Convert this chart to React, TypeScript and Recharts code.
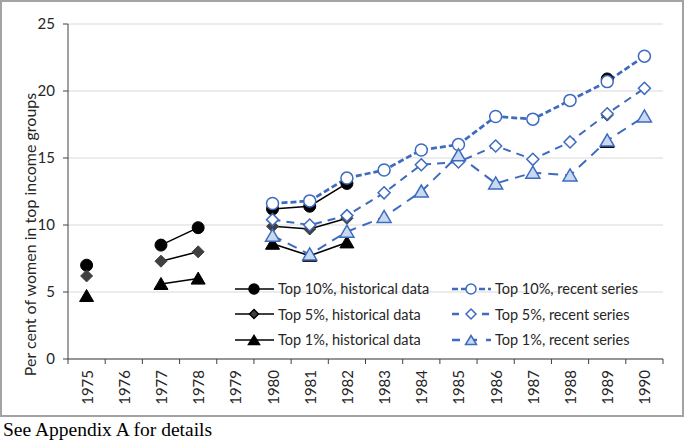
import React from 'react'
import { LineChart, Line, XAxis, YAxis, CartesianGrid, Legend } from 'recharts'

// values
const years = [1975, 1976, 1977, 1978, 1979, 1980, 1981, 1982, 1983, 1984, 1985, 1986, 1987, 1988, 1989, 1990]
const hist10 = [7.0, null, 8.5, 9.8, null, 11.2, 11.4, 13.1, null, null, null, null, null, null, 20.9, null]
const hist5 = [6.2, null, 7.3, 8.0, null, 9.9, 9.7, 10.5, null, null, null, null, null, null, 18.2, null]
const hist1 = [4.7, null, 5.6, 6.0, null, 8.6, 7.7, 8.7, null, null, null, null, null, null, 16.2, null]
const rec10 = [null, null, null, null, null, 11.6, 11.8, 13.5, 14.1, 15.6, 16.0, 18.1, 17.9, 19.3, 20.7, 22.6]
const rec5 = [null, null, null, null, null, 10.4, 10.0, 10.7, 12.4, 14.5, 14.7, 15.9, 14.9, 16.2, 18.3, 20.2]
const rec1 = [null, null, null, null, null, 9.2, 7.8, 9.5, 10.6, 12.5, 15.2, 13.1, 13.9, 13.7, 16.3, 18.1]
const yTicks = [0, 5, 10, 15, 20, 25]

const legendLabels = [
  'Top 10%, historical data', 'Top 10%, recent series',
  'Top 5%, historical data', 'Top 5%, recent series',
  'Top 1%, historical data', 'Top 1%, recent series',
]

const data = years.map((year, i) => ({
  year, hist10: hist10[i], hist5: hist5[i], hist1: hist1[i],
  rec10: rec10[i], rec5: rec5[i], rec1: rec1[i],
}))

const W = 685
const H = 416
const M = { top: 24, right: 22, left: 0, bottom: 0 }
const Y_W = 68
const X_H = 57
const BAND = (W - M.right - Y_W) / years.length
const BLUE = '#3e6bbf'
const FONT = 'Lato, "Liberation Sans", sans-serif'

const diamond = (cx: number, cy: number, r: number) =>
  `M${cx},${cy - r}L${cx + r},${cy}L${cx},${cy + r}L${cx - r},${cy}Z`
const triangle = (cx: number, cy: number, r: number) =>
  `M${cx},${cy - r}L${cx + r + 0.5},${cy + r - 1}L${cx - r - 0.5},${cy + r - 1}Z`

const mk = (kind: string, fill: string, stroke: string, r: number, sw: number) => (p: any) => {
  const { cx, cy, value, index } = p
  if (cx == null || cy == null || value == null) return <g key={index} />
  if (kind === 'circle') return <circle key={index} cx={cx} cy={cy} r={r} fill={fill} stroke={stroke} strokeWidth={sw} />
  const d = kind === 'diamond' ? diamond(cx, cy, r) : triangle(cx, cy, r)
  return <path key={index} d={d} fill={fill} stroke={stroke} strokeWidth={sw} strokeLinejoin="miter" />
}

const XTick = (p: any) => {
  const { x, y, payload, index } = p
  const h = BAND / 2
  return (
    <g>
      <line x1={x - h} y1={y} x2={x - h} y2={y + 5} stroke="#404040" />
      {index === years.length - 1 && <line x1={x + h} y1={y} x2={x + h} y2={y + 5} stroke="#404040" />}
      <text x={x} y={y + 11} transform={`rotate(-90 ${x} ${y + 11})`} textAnchor="end"
        dominantBaseline="central" fontSize={15} fontFamily={FONT} fill="#262626">{payload.value}</text>
    </g>
  )
}

const samples = [
  { color: '#000', dash: undefined, kind: 'circle', fill: '#000', r: 5 },
  { color: BLUE, dash: '6 3', kind: 'circle', fill: '#fff', r: 5 },
  { color: '#000', dash: undefined, kind: 'diamond', fill: '#404040', r: 4.5 },
  { color: BLUE, dash: '7 8', kind: 'diamond', fill: '#fff', r: 5 },
  { color: '#000', dash: undefined, kind: 'triangle', fill: '#000', r: 5 },
  { color: BLUE, dash: '8 9', kind: 'triangle', fill: '#c9d9f0', r: 5 },
]

const LegendBox = () => (
  <div style={{ display: 'grid', gridTemplateColumns: '217px 190px', rowGap: 4, fontFamily: FONT, fontSize: 14.5, color: '#262626' }}>
    {samples.map((s, i) => (
      <div key={i} style={{ display: 'flex', alignItems: 'center', height: 21.5, whiteSpace: 'nowrap' }}>
        <svg width={42} height={16} style={{ marginRight: 2 }}>
          <line x1={1} y1={8} x2={40} y2={8} stroke={s.color} strokeWidth={s.dash ? 2.5 : 1.5} strokeDasharray={s.dash} />
          {s.kind === 'circle' && <circle cx={20} cy={8} r={s.r} fill={s.fill} stroke={s.color} strokeWidth={1.5} />}
          {s.kind === 'diamond' && <path d={diamond(20, 8, s.r)} fill={s.fill} stroke={s.color} strokeWidth={1.5} />}
          {s.kind === 'triangle' && <path d={triangle(20, 8.5, s.r)} fill={s.fill} stroke={s.color} strokeWidth={1.5} />}
        </svg>
        <span>{legendLabels[i]}</span>
      </div>
    ))}
  </div>
)

export default function App() {
  return (
    <div style={{ position: 'absolute', left: 0, top: 0, width: W, height: 447, background: '#fff' }}>
      <div style={{ position: 'absolute', left: 0, top: 0, width: W - 1, height: H + 1, border: '2px solid #a3a3a3', boxSizing: 'border-box' }} />
      <div style={{ position: 'absolute', left: 0, top: 0 }}>
        <LineChart width={W} height={H} data={data} margin={M}>
          <CartesianGrid vertical={false} stroke="#d9d9d9" />
          <XAxis dataKey="year" type="number" domain={[1974.5, 1990.5]} ticks={years} interval={0}
            height={X_H} tickLine={false} tickSize={0} tickMargin={0} stroke="#404040" tick={<XTick />} />
          <YAxis domain={[0, 25]} ticks={yTicks} width={Y_W} tickSize={5} tickMargin={8} stroke="#404040"
            tick={{ fontSize: 15, fontFamily: FONT, fill: '#262626' }}
            label={{ value: 'Per cent of women in top income groups', angle: -90, position: 'insideLeft',
              dx: 25, dy: 43, style: { textAnchor: 'middle', fontSize: 16, fontFamily: FONT, fill: '#262626' } }} />
          <Legend layout="vertical" align="center" verticalAlign="middle" content={() => <LegendBox />}
            wrapperStyle={{ left: 234, top: 278, width: 420 }} />
          <Line dataKey="hist10" stroke="#000" strokeWidth={1.5} isAnimationActive={false} dot={mk('circle', '#000', '#000', 6, 1)} />
          <Line dataKey="hist5" stroke="#000" strokeWidth={1.5} isAnimationActive={false} dot={mk('diamond', '#404040', '#404040', 6, 1)} />
          <Line dataKey="hist1" stroke="#000" strokeWidth={1.5} isAnimationActive={false} dot={mk('triangle', '#000', '#000', 6.5, 1)} />
          <Line dataKey="rec10" stroke={BLUE} strokeWidth={2.75} strokeDasharray="6 3" isAnimationActive={false} dot={mk('circle', '#fff', BLUE, 6, 1.5)} />
          <Line dataKey="rec5" stroke={BLUE} strokeWidth={2} strokeDasharray="8 6" isAnimationActive={false} dot={mk('diamond', '#fff', BLUE, 6, 1.5)} />
          <Line dataKey="rec1" stroke={BLUE} strokeWidth={2} strokeDasharray="10 7" isAnimationActive={false} dot={mk('triangle', '#c9d9f0', BLUE, 6.5, 1.5)} />
        </LineChart>
      </div>
      <div style={{ position: 'absolute', left: 3, top: 419, fontFamily: '"Liberation Serif", "Times New Roman", serif', fontSize: 19.5, color: '#000' }}>
        See Appendix A for details
      </div>
    </div>
  )
}
